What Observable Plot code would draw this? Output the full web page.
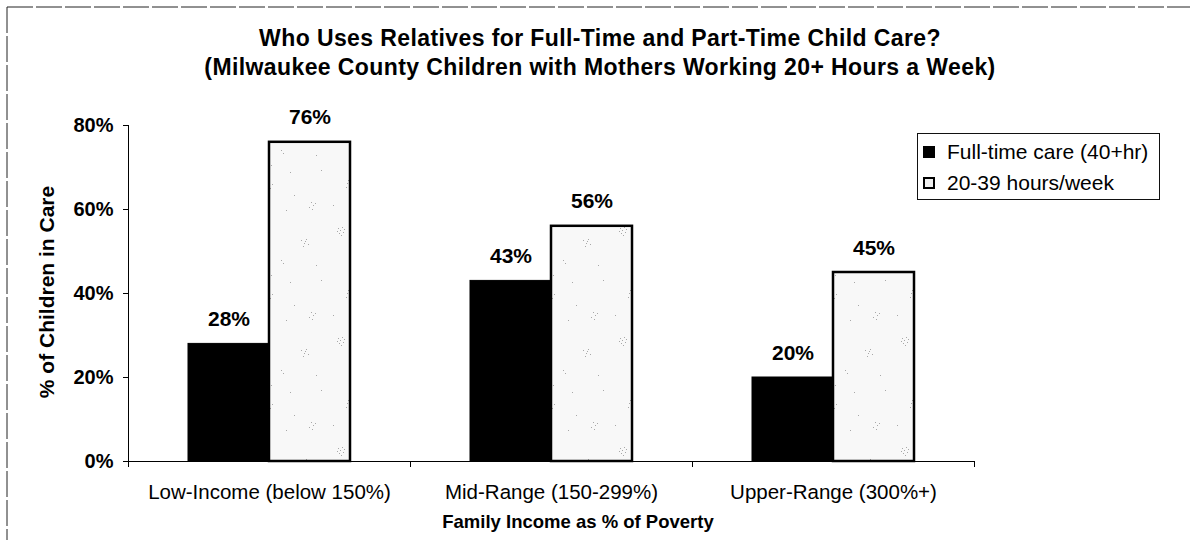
<!DOCTYPE html>
<html>
<head>
<meta charset="utf-8">
<script src="https://cdn.jsdelivr.net/npm/d3@7"></script>
<script src="https://cdn.jsdelivr.net/npm/@observablehq/plot@0.6"></script>
<style>
  html, body { margin: 0; padding: 0; background: #fff; }
  #wrap { position: relative; width: 1190px; height: 540px; overflow: hidden;
          font-family: Arial, "Liberation Sans", sans-serif; color: #000; }
  #chart { position: absolute; left: 0; top: 0; }
  .title { position: absolute; left: 5px; top: 24px; width: 1190px; text-align: center;
           font-weight: bold; font-size: 23px; line-height: 29px; letter-spacing: 0.4px; }
  .ylab { position: absolute; left: 47px; top: 292px; white-space: nowrap;
          transform: translate(-50%, -50%) rotate(-90deg);
          font-weight: bold; font-size: 21px; }
  .xlab { position: absolute; left: 578px; top: 512px; white-space: nowrap;
          transform: translateX(-50%); font-weight: bold; font-size: 18.5px; line-height: 20px; }
  .legend { position: absolute; left: 917px; top: 133px; width: 243px; height: 67px;
            box-sizing: border-box; border: 1px solid #111; padding: 2px 0 0 5px; }
  .legend .row { display: flex; align-items: center; height: 31px; font-size: 21px; white-space: nowrap; }
  .legend .sw { width: 12px; height: 12px; box-sizing: border-box; margin-right: 12px; flex: none; }
  .frameline { position: absolute; left: 0; top: 0; }
</style>
</head>
<body>
<div id="wrap">
  <svg width="0" height="0" style="position:absolute">
    <defs>
      <pattern id="speckle" patternUnits="userSpaceOnUse" width="82" height="110">
        <rect width="82" height="110" fill="#f8f8f8"></rect>
        <g fill="#a8a8a8">
          <rect x="10" y="8" width="1" height="1"></rect><rect x="12" y="10" width="1" height="1"></rect>
          <rect x="14" y="7" width="1" height="1"></rect><rect x="11" y="13" width="1" height="1"></rect>
          <rect x="15" y="12" width="1" height="1"></rect><rect x="13" y="15" width="1" height="1"></rect>
          <rect x="9" y="11" width="1" height="1"></rect><rect x="16" y="9" width="1" height="1"></rect>
          <rect x="55" y="20" width="1" height="1"></rect><rect x="58" y="23" width="1" height="1"></rect>
          <rect x="60" y="19" width="1" height="1"></rect><rect x="57" y="26" width="1" height="1"></rect>
          <rect x="62" y="24" width="1" height="1"></rect><rect x="59" y="21" width="1" height="1"></rect>
          <rect x="35" y="40" width="1" height="1"></rect><rect x="37" y="43" width="1" height="1"></rect>
          <rect x="70" y="45" width="1" height="1"></rect><rect x="25" y="55" width="1" height="1"></rect>
          <rect x="20" y="70" width="1" height="1"></rect><rect x="23" y="72" width="1" height="1"></rect>
          <rect x="21" y="75" width="1" height="1"></rect><rect x="26" y="74" width="1" height="1"></rect>
          <rect x="24" y="78" width="1" height="1"></rect><rect x="18" y="77" width="1" height="1"></rect>
          <rect x="22" y="80" width="1" height="1"></rect><rect x="19" y="73" width="1" height="1"></rect>
          <rect x="48" y="85" width="1" height="1"></rect><rect x="65" y="92" width="1" height="1"></rect>
          <rect x="67" y="95" width="1" height="1"></rect><rect x="63" y="97" width="1" height="1"></rect>
          <rect x="66" y="99" width="1" height="1"></rect><rect x="69" y="93" width="1" height="1"></rect>
          <rect x="40" y="100" width="1" height="1"></rect><rect x="5" y="95" width="1" height="1"></rect>
          <rect x="75" y="60" width="1" height="1"></rect><rect x="44" y="62" width="1" height="1"></rect>
        </g>
      </pattern>
    </defs>
  </svg>
  <div id="chart"></div>
  <svg class="frameline" width="1190" height="540">
    <line x1="7" y1="7" x2="1190" y2="7" stroke="#222" stroke-width="1" stroke-dasharray="26 3"></line>
    <line x1="7" y1="7" x2="7" y2="540" stroke="#222" stroke-width="1" stroke-dasharray="26 3"></line>
  </svg>
  <div class="title">Who Uses Relatives for Full-Time and Part-Time Child Care?<br>(Milwaukee County Children with Mothers Working 20+ Hours a Week)</div>
  <div class="ylab">% of Children in Care</div>
  <div class="xlab">Family Income as % of Poverty</div>
  <div class="legend" id="legend"></div>
</div>
<script>
// ---- data ----
const categories = ["Low-Income (below 150%)", "Mid-Range (150-299%)", "Upper-Range (300%+)"];
const seriesNames = ["Full-time care (40+hr)", "20-39 hours/week"];
const fullTimeValues = [28, 43, 20];
const partTimeValues = [76, 56, 45];
const yTickValues = [0, 20, 40, 60, 80];

const rows = [];
categories.forEach((c, i) => {
  rows.push({cat: c, series: seriesNames[0], value: fullTimeValues[i]});
  rows.push({cat: c, series: seriesNames[1], value: partTimeValues[i]});
});
const pct = d => d + "%";

const chart = Plot.plot({
  width: 1190,
  height: 540,
  marginLeft: 128,
  marginRight: 216,
  marginTop: 125,
  marginBottom: 79,
  style: {fontFamily: 'Arial, "Liberation Sans", sans-serif', color: "#000", background: "transparent"},
  fx: {domain: categories, padding: 0, paddingInner: 0, paddingOuter: 0},
  x: {type: "band", domain: seriesNames, paddingInner: 0, paddingOuter: 0.74, axis: null},
  y: {domain: [0, 80]},
  marks: [
    Plot.barY(rows.filter(d => d.series === seriesNames[0]), {fx: "cat", x: "series", y: "value", fill: "#000", stroke: "#000", strokeWidth: 1}),
    Plot.barY(rows.filter(d => d.series === seriesNames[1]), {fx: "cat", x: "series", y: "value", fill: "url(#speckle)", stroke: "#000", strokeWidth: 2.5}),
    Plot.ruleY([0], {stroke: "#000", strokeWidth: 1}),
    Plot.frame({anchor: "left", facet: "super", stroke: "#000", strokeWidth: 1}),
    Plot.frame({anchor: "left", insetTop: 336, insetBottom: -5, stroke: "#000", strokeWidth: 1}),
    Plot.frame({anchor: "right", insetTop: 336, insetBottom: -5, stroke: "#000", strokeWidth: 1}),
    Plot.text(rows, {fx: "cat", x: "series", y: "value", text: d => pct(d.value), dy: -18, lineAnchor: "bottom", fontSize: 21, fontWeight: "bold", fill: "#000"}),
    Plot.axisY({ticks: yTickValues, tickFormat: pct, tickSize: 5, tickPadding: 10, fontSize: 20, fontWeight: "bold", label: null, stroke: "#000"}),
    Plot.axisFx({anchor: "bottom", tickSize: 0, tickPadding: 23, fontSize: 20.5, label: null})
  ]
});
document.getElementById("chart").appendChild(chart);

// legend
const legend = document.getElementById("legend");
seriesNames.forEach((s, i) => {
  const row = document.createElement("div");
  row.className = "row";
  const sw = document.createElement("span");
  sw.className = "sw";
  if (i === 0) { sw.style.background = "#000"; }
  else { sw.style.background = "#f0f0f0"; sw.style.border = "2px solid #000"; }
  const t = document.createElement("span");
  t.textContent = s;
  row.appendChild(sw); row.appendChild(t);
  legend.appendChild(row);
});
</script>
</body>
</html>
